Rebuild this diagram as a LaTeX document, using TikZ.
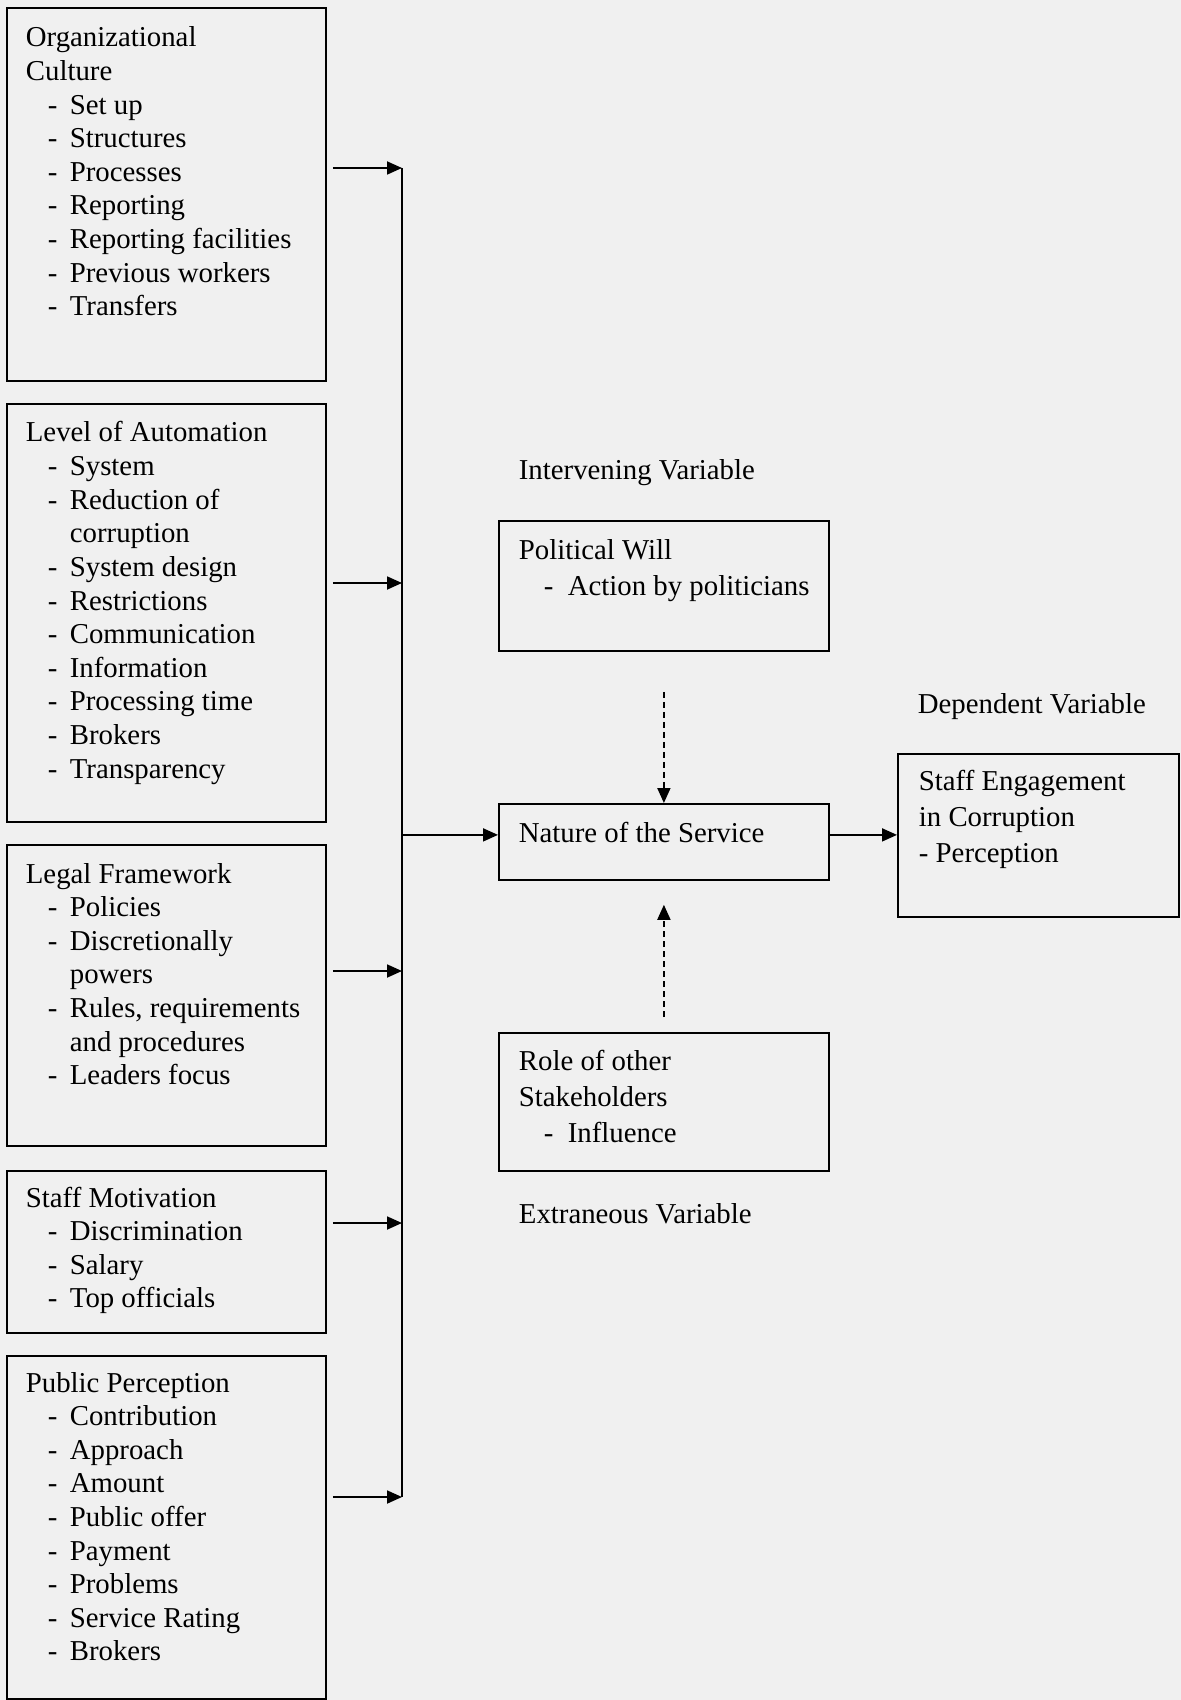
\documentclass[tikz,border=0pt]{standalone}
\usepackage{fontspec}
\setmainfont{Liberation Serif}
\usetikzlibrary{arrows.meta}
% list items inside the boxes
\newcommand{\ditem}{\hspace*{11pt}\makebox[11pt][l]{-}}
\newcommand{\dcont}{\hspace*{22pt}}
\newcommand{\ritem}{\hspace*{12.5pt}\makebox[12pt][l]{-}}
\newcommand{\boxlist}[1]{\begin{tabular}[t]{@{}l@{}}#1\end{tabular}}
\begin{document}
\begin{tikzpicture}[x=0.5pt,y=-0.5pt,line width=0.9pt,
    box/.style={draw,rectangle,inner sep=0pt,anchor=north west,minimum width=159.5pt},
    rbox/.style={box,minimum width=165pt},
    txt/.style={inner sep=0pt,anchor=base west,font=\fontsize{14.4}{16.8}\selectfont},
    rtxt/.style={txt,font=\fontsize{14.4}{18}\selectfont},
    arr/.style={-{Triangle[length=7.5pt,width=6.5pt]}},
    dasharr/.style={arr,dash pattern=on 3pt off 2pt}]
  \fill[black!6] (0,0) rectangle (1181,1700);
  \useasboundingbox (0,0) rectangle (1181,1700);

  % independent variables
  \node[box,minimum height=186.5pt] (culture) at (6,7) {};
  \node[box,minimum height=209pt] (automation) at (6,403) {};
  \node[box,minimum height=150.5pt] (legal) at (6,844) {};
  \node[box,minimum height=81pt] (motivation) at (6,1170) {};
  \node[box,minimum height=171.5pt] (perception) at (6,1355) {};

  \node[txt] (culturetxt) at (25,47) {\boxlist{Organizational\\Culture\\\ditem Set up\\\ditem Structures\\\ditem Processes\\\ditem Reporting\\\ditem Reporting facilities\\\ditem Previous workers\\\ditem Transfers}};
  \node[txt] (automationtxt) at (25,442) {\boxlist{Level of Automation\\\ditem System\\\ditem Reduction of\\\dcont corruption\\\ditem System design\\\ditem Restrictions\\\ditem Communication\\\ditem Information\\\ditem Processing time\\\ditem Brokers\\\ditem Transparency}};
  \node[txt] (legaltxt) at (25,883) {\boxlist{Legal Framework\\\ditem Policies\\\ditem Discretionally\\\dcont powers\\\ditem Rules, requirements\\\dcont and procedures\\\ditem Leaders focus}};
  \node[txt] (motivationtxt) at (25,1207) {\boxlist{Staff Motivation\\\ditem Discrimination\\\ditem Salary\\\ditem Top officials}};
  \node[txt] (perceptiontxt) at (25,1392) {\boxlist{Public Perception\\\ditem Contribution\\\ditem Approach\\\ditem Amount\\\ditem Public offer\\\ditem Payment\\\ditem Problems\\\ditem Service Rating\\\ditem Brokers}};

  % intervening, extraneous and dependent variables
  \node[rtxt] (intervening) at (518,480) {Intervening Variable};
  \node[rbox,minimum height=65pt] (political) at (498,520) {};
  \node[rtxt] (politicaltxt) at (518,559) {\boxlist{Political Will\\\ritem Action by politicians}};
  \node[rbox,minimum height=38pt] (nature) at (498,803) {};
  \node[rtxt] (naturetxt) at (518,842) {Nature of the Service};
  \node[rbox,minimum height=69pt] (role) at (498,1032) {};
  \node[rtxt] (roletxt) at (518,1070) {\boxlist{Role of other\\Stakeholders\\\ritem Influence}};
  \node[rtxt] (extraneous) at (518,1223) {Extraneous Variable};

  \node[rtxt] (dependentlbl) at (917,713) {Dependent Variable};
  \node[box,minimum width=140.5pt,minimum height=81.5pt] (engagement) at (897,753) {};
  \node[rtxt] (engagementtxt) at (918,790) {\boxlist{Staff Engagement\\in Corruption\\- Perception}};

  % collecting line
  \coordinate (b1) at (402,168);
  \coordinate (b2) at (402,583);
  \coordinate (b3) at (402,971);
  \coordinate (b4) at (402,1223);
  \coordinate (b5) at (402,1497);
  \coordinate (nin) at ([yshift=3.5pt]nature.west);
  \coordinate (nout) at ([yshift=3.5pt]nature.east);
  \draw (b1) -- (b5);
  \draw[arr,shorten <=3pt] (culture.east |- b1) -- (b1);
  \draw[arr,shorten <=3pt] (automation.east |- b2) -- (b2);
  \draw[arr,shorten <=3pt] (legal.east |- b3) -- (b3);
  \draw[arr,shorten <=3pt] (motivation.east |- b4) -- (b4);
  \draw[arr,shorten <=3pt] (perception.east |- b5) -- (b5);

  \draw[arr] (b1 |- nin) -- (nin);
  \draw[arr] (nout) -- (nout -| engagement.west);
  \draw[dasharr,shorten <=20pt] (political.south) -- (nature.north);
  \draw[dasharr,shorten <=7.5pt,shorten >=12pt] (role.north) -- (nature.south);
\end{tikzpicture}
\end{document}
